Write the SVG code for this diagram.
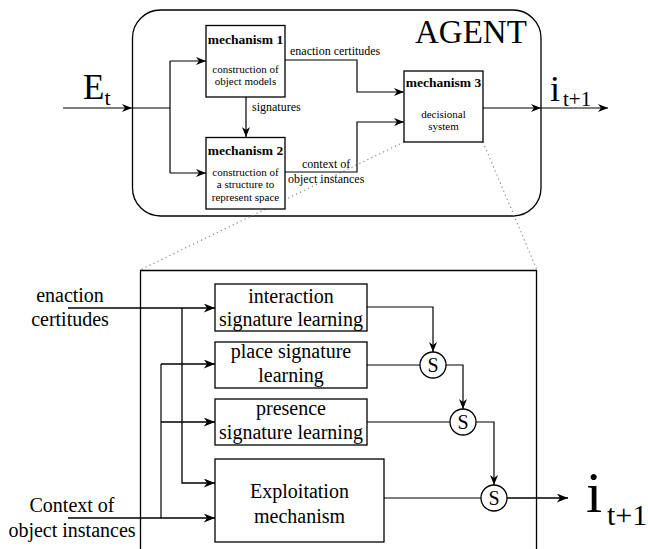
<svg xmlns="http://www.w3.org/2000/svg" width="648" height="549" viewBox="0 0 648 549" font-family="'Liberation Serif', 'DejaVu Serif', serif">
  <defs>
    <marker id="arr" viewBox="0 0 10 8" refX="10" refY="4" markerWidth="10" markerHeight="8" markerUnits="userSpaceOnUse" orient="auto">
      <path d="M0,0 L10,4 L0,8 L3,4 z" fill="#000"/>
    </marker>
    <marker id="arrL" viewBox="0 0 10 8" refX="10" refY="4" markerWidth="12" markerHeight="9" markerUnits="userSpaceOnUse" orient="auto">
      <path d="M0,0 L10,4 L0,8 L3,4 z" fill="#000"/>
    </marker>
  </defs>
  <style>
    text { font-family: 'Liberation Serif', 'DejaVu Serif', serif; fill: #000; }
    .box { fill: #fff; stroke: #000; stroke-width: 1.3; }
    .frame { fill: none; stroke: #000; stroke-width: 1.3; }
    .wire { fill: none; stroke: #000; stroke-width: 1.2; }
    .wireA { fill: none; stroke: #000; stroke-width: 1.2; marker-end: url(#arr); }
    .wireB { fill: none; stroke: #000; stroke-width: 1.3; marker-end: url(#arrL); }
    .dots { fill: none; stroke: #888; stroke-width: 1.2; stroke-dasharray: 1.2 3.2; }
    .bold { font-weight: bold; font-size: 13.5px; }
    .small { font-size: 11px; }
    .lbl { font-size: 12px; }
    .big { font-size: 20px; }
    .mid { text-anchor: middle; }
  </style>

  <!-- agent outline -->
  <g id="agent">
    <rect class="frame" x="132.5" y="10" width="408.5" height="206" rx="28" ry="28"/>
    <text x="415" y="43" font-size="33">AGENT</text>
  </g>

  <!-- zoom lines from mechanism 3 to the detail frame -->
  <g id="zoom-lines">
    <path class="dots" d="M404,142 L140,270"/>
    <path class="dots" d="M483,142 L537,270"/>
  </g>

  <!-- detail frame -->
  <g id="detail">
    <path class="frame" d="M140.5,549 V270.5 H536.5 V549"/>
  </g>

  <!-- connectors -->
  <g id="connectors">
    <!-- upper part -->
    <path class="wireA" d="M63,108 H132"/>
    <path class="wire" d="M132,108 H170"/>
    <path class="wire" d="M170,61 V173"/>
    <path class="wireA" d="M170,61 H206"/>
    <path class="wireA" d="M170,173 H206"/>
    <path class="wireA" d="M246,97 V137"/>
    <path class="wireA" d="M285,60 H357 V92 H404"/>
    <path class="wireA" d="M285,172 H357 V122 H404"/>
    <path class="wireA" d="M483,108 H541"/>
    <path class="wireA" d="M541,108 H608"/>

    <!-- lower part -->
    <path class="wireB" d="M68,308 H215"/>
    <path class="wireB" d="M182,308 V483 H215"/>
    <path class="wireB" d="M68,518 H215"/>
    <path class="wire" d="M161,518 V364"/>
    <path class="wireB" d="M161,364 H215"/>
    <path class="wireB" d="M161,422 H215"/>
    <path class="wireA" d="M367,307 H433 V352"/>
    <path class="wire" d="M367,365 H420"/>
    <path class="wireA" d="M446,365 H463 V409"/>
    <path class="wire" d="M367,422 H450"/>
    <path class="wireA" d="M476,422 H494 V485"/>
    <path class="wire" d="M384,498 H481"/>
    <path class="wireB" d="M507,498 H568"/>
  </g>

  <!-- connector labels -->
  <g id="labels">
    <text x="83" y="99" font-size="35">E<tspan font-size="22" dy="6">t</tspan></text>
    <text x="550" y="101" font-size="36">i</text>
    <text x="563" y="106" font-size="21">t+1</text>
    <text class="lbl" x="252" y="111">signatures</text>
    <text class="lbl" x="290" y="55">enaction certitudes</text>
    <text class="lbl" x="302" y="168">context of</text>
    <text class="lbl" x="288" y="183">object instances</text>
    <text class="big mid" x="70" y="302">enaction</text>
    <text class="big mid" x="70" y="326">certitudes</text>
    <text class="big mid" x="72" y="512">Context of</text>
    <text class="big mid" x="72" y="537">object instances</text>
    <text x="586" y="512" font-size="58">i</text>
    <text x="607" y="525" font-size="30">t+1</text>
  </g>

  <!-- mechanisms -->
  <g id="mechanism1">
    <rect class="box" x="206" y="25.5" width="79" height="71.5"/>
    <text class="bold mid" x="245.5" y="44">mechanism 1</text>
    <text class="small mid" x="245.5" y="73">construction of</text>
    <text class="small mid" x="245.5" y="85">object models</text>
  </g>
  <g id="mechanism2">
    <rect class="box" x="206" y="137.5" width="79" height="71.5"/>
    <text class="bold mid" x="245.5" y="155">mechanism 2</text>
    <text class="small mid" x="245.5" y="176">construction of</text>
    <text class="small mid" x="245.5" y="188">a structure to</text>
    <text class="small mid" x="245.5" y="201">represent space</text>
  </g>
  <g id="mechanism3">
    <rect class="box" x="404" y="71" width="79" height="71"/>
    <text class="bold mid" x="443.5" y="87">mechanism 3</text>
    <text class="small mid" x="443.5" y="118">decisional</text>
    <text class="small mid" x="443.5" y="130">system</text>
  </g>

  <!-- learning blocks -->
  <g id="interaction-learning">
    <rect class="box" x="215" y="284" width="152" height="47"/>
    <text class="big mid" x="291" y="303">interaction</text>
    <text class="big mid" x="291" y="326">signature learning</text>
  </g>
  <g id="place-learning">
    <rect class="box" x="215" y="342" width="152" height="46"/>
    <text class="big mid" x="291" y="358">place signature</text>
    <text class="big mid" x="291" y="382">learning</text>
  </g>
  <g id="presence-learning">
    <rect class="box" x="215" y="399" width="152" height="46"/>
    <text class="big mid" x="291" y="415">presence</text>
    <text class="big mid" x="291" y="439">signature learning</text>
  </g>
  <g id="exploitation">
    <rect class="box" x="215" y="459" width="169" height="83"/>
    <text class="big mid" x="299.5" y="498">Exploitation</text>
    <text class="big mid" x="299.5" y="523">mechanism</text>
  </g>

  <!-- selectors -->
  <g id="s1">
    <circle class="box" cx="433" cy="365" r="13"/>
    <text class="big mid" x="433" y="372">S</text>
  </g>
  <g id="s2">
    <circle class="box" cx="463" cy="422" r="13"/>
    <text class="big mid" x="463" y="429">S</text>
  </g>
  <g id="s3">
    <circle class="box" cx="494" cy="498" r="13"/>
    <text class="big mid" x="494" y="505">S</text>
  </g>
</svg>
